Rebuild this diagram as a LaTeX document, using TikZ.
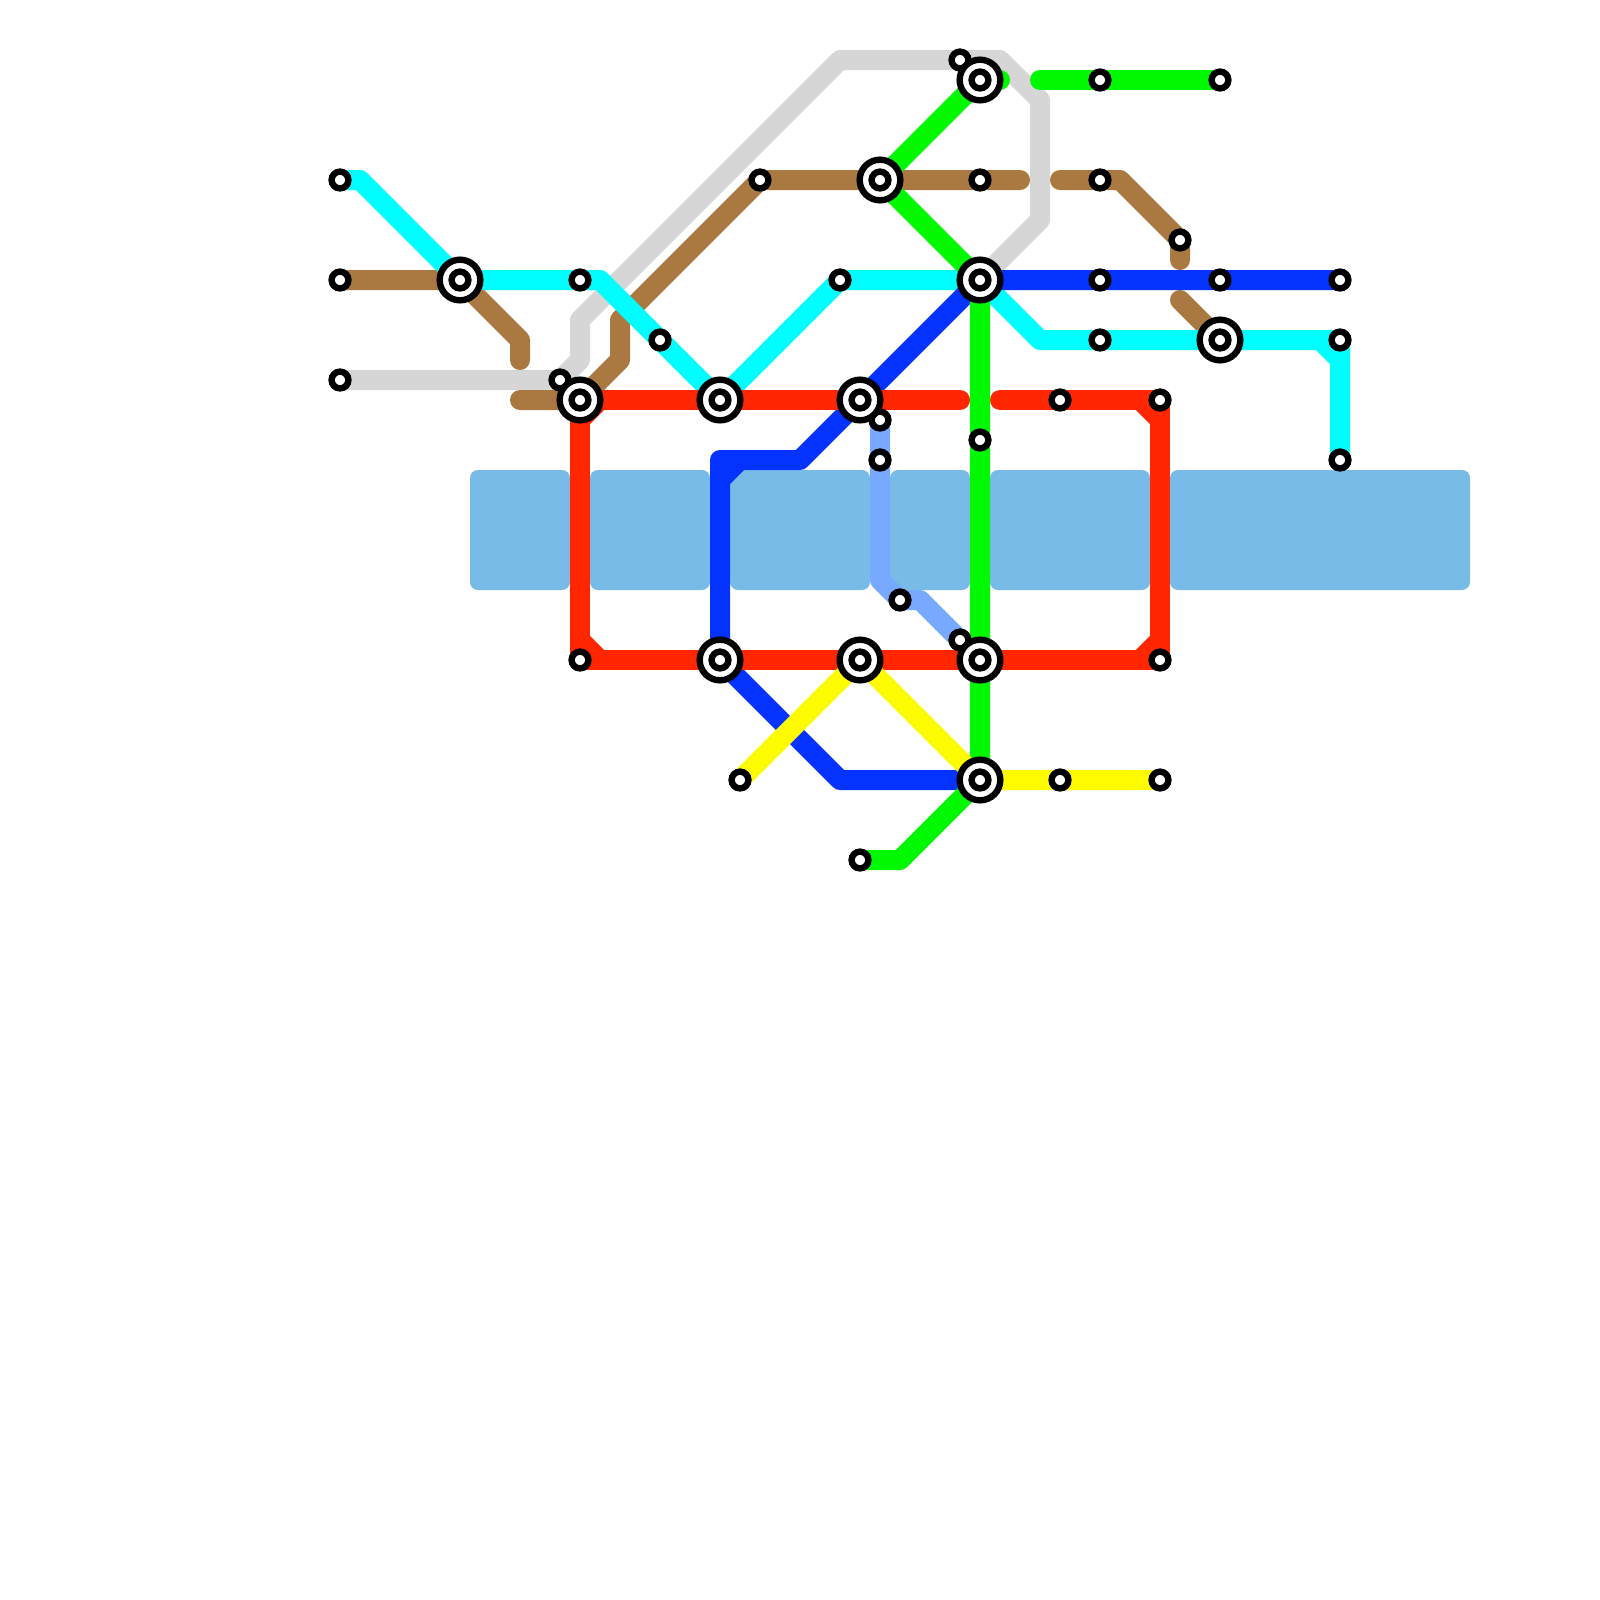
\documentclass[tikz,border=0pt]{standalone}
\definecolor{watercol}{HTML}{79BBE7}
\definecolor{cyanline}{HTML}{00FDFF}
\definecolor{brownline}{HTML}{AA7942}
\definecolor{grayline}{HTML}{D6D6D6}
\definecolor{redline}{HTML}{FF2600}
\definecolor{blueline}{HTML}{0433FF}
\definecolor{greenline}{HTML}{00F900}
\definecolor{skyline}{HTML}{76A9FF}
\definecolor{yellowline}{HTML}{FFFB00}
\pgfdeclarelayer{lines}
\pgfsetlayers{lines,main}
\tikzset{
  route/.style={line width=.25cm,line cap=round,line join=round},
  water/.style={fill=watercol,rounded corners=.1cm},
  stop/.style={circle,draw=black,fill=white,line width=.08cm,minimum size=.21cm,inner sep=0pt},
  hub/.style={circle,draw=black,fill=white,line width=.08cm,minimum size=.508cm,inner sep=0pt}
}
\begin{document}
\begin{tikzpicture}[x=.25cm,y=-.25cm]
\useasboundingbox (0,0) rectangle (80,80);
% stations
\foreach \n/\x/\y in {a/17/9,b/17/14,c/17/19,d/29/14,e/38/9,f/33/17,g/28/19,h/48/3,i/55/4,j/61/4,k/49/9,l/55/9,m/59/12,n/42/14,o/55/14,p/61/14,q/55/17,r/44/21,s/44/23,t/49/22,u/53/20,v/58/20,w/67/14,x/67/17,y/67/23,z/45/30,aa/58/33,ab/48/32,ac/37/39,ad/53/39,ae/58/39,af/43/43,ag/29/33}{\node[stop] (\n) at (\x,\y) {};}
\foreach \n/\x/\y in {A/23/14,B/29/20,C/36/20,D/49/4,E/44/9,F/49/14,G/61/17,H/43/20,I/36/33,J/43/33,K/49/33,L/49/39}{\node[hub] (\n) at (\x,\y) {}; \node[stop] (\n0) at (\n) {};}
% free line ends
\coordinate (brownA) at (26,18); \coordinate (brownB) at (26,20); \coordinate (brownC) at (51,9);
\coordinate (brownD) at (53,9); \coordinate (brownE) at (59,13); \coordinate (brownF) at (59,15);
\coordinate (redA) at (48,20); \coordinate (redB) at (50,20);
\coordinate (greenA) at (50,4); \coordinate (greenB) at (52,4);
\begin{pgfonlayer}{lines}
\foreach \xa/\xb in {23.5/28.5,29.5/35.5,36.5/43.5,44.5/48.5,49.5/57.5,58.5/73.5}{\path[water] (\xa,23.5) rectangle (\xb,29.5);}
\draw[route,grayline] (c.center)--(g.center)--(29,18)--(29,16)--(42,3)--(h.center)--(50,3)--(52,5)--(52,11)--(F.center);
\draw[route,brownline] (b.center)--(A.center)--(26,17)--(brownA);
\draw[route,brownline] (brownB)--(B.center)--(31,18)--(31,16)--(e.center)--(E.center)--(k.center)--(brownC);
\draw[route,brownline] (brownD)--(l.center)--(56,9)--(m.center)--(brownE);
\draw[route,brownline] (brownF)--(G.center);
\draw[route,cyanline] (a.center)--(18,9)--(A.center)--(d.center)--(30,14)--(f.center)--(C.center)--(n.center)--(F.center)--(52,17)--(q.center)--(G.center)--(x.center)--(y.center);
\draw[route,cyanline] (66,17)--(67,18);
\draw[route,blueline] (w.center)--(p.center)--(o.center)--(F.center)--(H.center)--(40,23)--(36,23)--(I.center)--(42,39)--(L.center);
\draw[route,blueline] (36,24)--(37,23);
\draw[route,redline] (B.center)--(C.center)--(H.center)--(redA);
\draw[route,redline] (redB)--(u.center)--(v.center)--(aa.center)--(K.center)--(J.center)--(I.center)--(ag.center)--(B.center);
\foreach \p/\q in {29/21,30/20}{}
\draw[route,redline] (29,21)--(30,20);
\draw[route,redline] (29,32)--(30,33);
\draw[route,redline] (57,20)--(58,21);
\draw[route,redline] (57,33)--(58,32);
\draw[route,greenline] (greenB)--(i.center)--(j.center);
\draw[route,greenline] (greenA)--(D.center)--(E.center)--(F.center)--(t.center)--(K.center)--(L.center)--(45,43)--(af.center);
\draw[route,skyline] (r.center)--(s.center)--(44,29)--(z.center)--(46,30)--(ab.center);
\draw[route,yellowline] (ac.center)--(J.center)--(L.center)--(ad.center)--(ae.center);
\end{pgfonlayer}
\end{tikzpicture}
\end{document}
